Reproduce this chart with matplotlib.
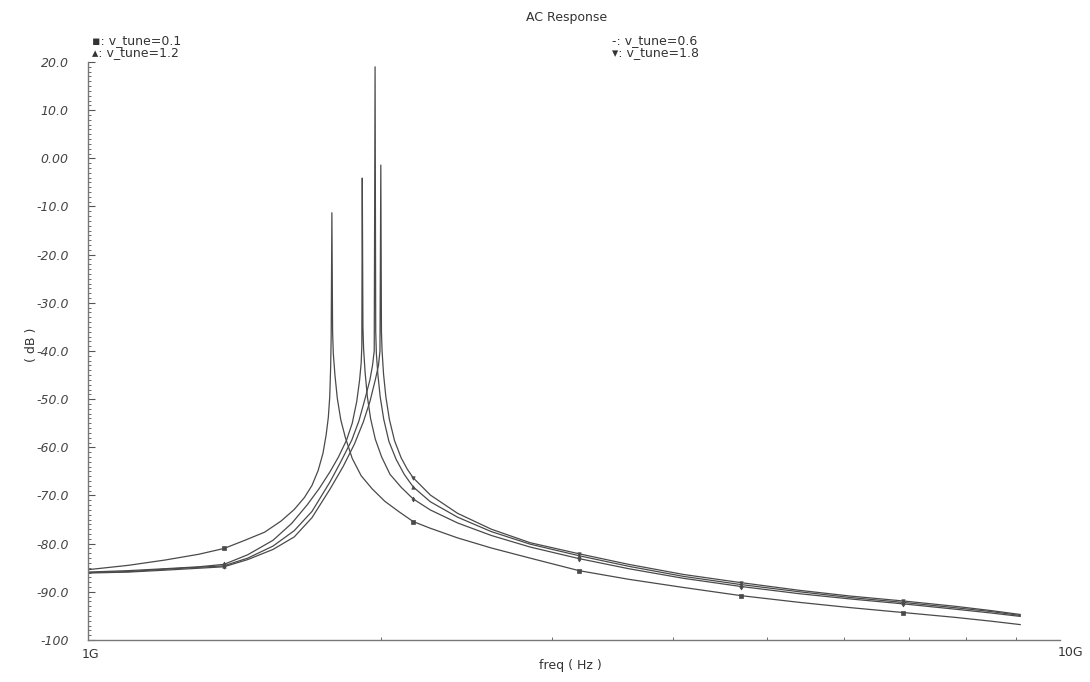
import numpy as np
import matplotlib.pyplot as plt
from matplotlib.ticker import FixedLocator, NullFormatter

# frequencies in GHz, magnitude in dB
f_01 = [1.00, 1.10, 1.20, 1.30, 1.38, 1.45, 1.52, 1.58, 1.63, 1.67, 1.70, 1.725, 1.745,
        1.758, 1.767, 1.773, 1.777, 1.779, 1.782, 1.785, 1.788, 1.795, 1.805, 1.82, 1.84,
        1.87, 1.91, 1.96, 2.02, 2.09, 2.16, 2.25, 2.40, 2.60, 2.85, 3.20, 3.60, 4.10,
        4.70, 5.40, 6.10, 6.90, 7.80, 8.50, 9.10]
db_01 = [-85.4, -84.5, -83.4, -82.2, -81.0, -79.3, -77.6, -75.3, -72.9, -70.4, -67.9, -64.8, -61.2,
         -57.4, -53.8, -49.5, -43.0, -37.0, -11.3, -36.0, -40.5, -45.0, -49.8, -54.3, -58.0,
         -62.3, -65.9, -68.6, -71.2, -73.4, -75.4, -76.8, -78.8, -80.9, -83.0, -85.6, -87.4, -89.1,
         -90.8, -92.2, -93.3, -94.3, -95.3, -96.1, -96.8]

f_06 = [1.00, 1.10, 1.20, 1.30, 1.38, 1.46, 1.55, 1.62, 1.68, 1.73, 1.775, 1.81, 1.845,
        1.87, 1.89, 1.903, 1.910, 1.913, 1.915, 1.918, 1.921, 1.928, 1.938, 1.953,
        1.975, 2.005, 2.045, 2.10, 2.16, 2.25, 2.40, 2.60, 2.85, 3.20, 3.60, 4.10, 4.70,
        5.40, 6.10, 6.90, 7.80, 8.50, 9.10]
db_06 = [-85.9, -85.6, -85.2, -84.8, -84.3, -82.3, -79.3, -75.8, -72.0, -68.5, -65.0, -62.0, -58.5,
         -55.0, -50.5, -46.0, -42.5, -39.0, -4.1, -35.0, -39.5, -44.5, -49.4, -54.0,
         -58.3, -62.0, -65.6, -68.3, -70.7, -73.0, -75.7, -78.3, -80.7, -83.1, -85.2, -87.2, -88.9,
         -90.4, -91.5, -92.5, -93.6, -94.4, -95.1]

f_12 = [1.00, 1.10, 1.20, 1.30, 1.38, 1.46, 1.55, 1.63, 1.70, 1.775, 1.82, 1.868, 1.90,
        1.93, 1.95, 1.962, 1.970, 1.974, 1.977, 1.980, 1.987, 1.998, 2.015,
        2.04, 2.075, 2.115, 2.16, 2.25, 2.40, 2.60, 2.85, 3.20, 3.60, 4.10, 4.70, 5.40,
        6.10, 6.90, 7.80, 8.50, 9.10]
db_12 = [-86.0, -85.8, -85.3, -84.9, -84.6, -83.0, -80.5, -77.3, -73.3, -67.1, -63.0, -58.5, -54.5,
         -49.5, -46.0, -43.0, -40.0, 19.0, -36.0, -40.5, -44.8, -49.5, -54.2,
         -58.8, -62.5, -65.6, -68.2, -71.3, -74.5, -77.5, -80.1, -82.5, -84.7, -86.8, -88.5, -90.0,
         -91.2, -92.2, -93.3, -94.1, -94.9]

f_18 = [1.00, 1.10, 1.20, 1.30, 1.38, 1.46, 1.55, 1.63, 1.70, 1.775, 1.83, 1.88, 1.92,
        1.95, 1.975, 1.99, 1.997, 2.001, 2.004, 2.007, 2.014, 2.025, 2.042,
        2.067, 2.10, 2.13, 2.16, 2.25, 2.40, 2.60, 2.85, 3.20, 3.60, 4.10, 4.70, 5.40,
        6.10, 6.90, 7.80, 8.50, 9.10]
db_18 = [-86.1, -85.9, -85.5, -85.1, -84.8, -83.3, -81.2, -78.6, -74.6, -68.6, -64.0, -59.3, -54.7,
         -50.5, -46.0, -43.0, -40.0, -1.4, -36.0, -40.0, -44.8, -49.5, -54.2,
         -58.6, -62.2, -64.5, -66.3, -69.9, -73.7, -77.0, -79.8, -82.1, -84.3, -86.4, -88.1, -89.7,
         -90.9, -91.9, -93.0, -93.9, -94.7]

marker_f = [1.38, 2.16, 3.20, 4.70, 6.90]

curves = [
    (f_01, db_01, 's'),
    (f_06, db_06, 'd'),
    (f_12, db_12, '^'),
    (f_18, db_18, 'v'),
]

yticks = list(range(20, -101, -10))
ylabels = ['20.0', '10.0', '0.00', '-10.0', '-20.0', '-30.0', '-40.0', '-50.0',
           '-60.0', '-70.0', '-80.0', '-90.0', '-100']

plt.rcParams['font.family'] = 'DejaVu Sans'
fig = plt.figure(figsize=(10.9, 6.82), dpi=100)
ax = fig.add_axes([88 / 1090, 42 / 682, 972 / 1090, 578 / 682])

for f, db, mk in curves:
    f = np.array(f)
    idx = list(np.where(np.isin(f, marker_f))[0])
    ax.plot(f * 1e9, db, color='#4a4a4a', lw=0.9, marker=mk, markevery=idx,
            markersize=2.5, markerfacecolor='#4a4a4a', markeredgewidth=0.5)

ax.set_xscale('log')
ax.set_xlim(1e9, 1e10)
ax.set_ylim(-100, 20)

ax.set_yticks(yticks)
ax.set_yticklabels(ylabels, fontsize=9, color='#444444', style='italic')
ax.yaxis.set_minor_locator(FixedLocator(np.arange(-100, 20.01, 1.0)))
ax.tick_params(axis='y', which='major', direction='in', length=5, pad=14, color='#555555')
ax.tick_params(axis='y', which='minor', direction='in', length=2.5, color='#555555')

ax.xaxis.set_major_locator(FixedLocator([]))
ax.xaxis.set_minor_locator(FixedLocator([k * 1e9 for k in range(2, 10)]))
ax.xaxis.set_minor_formatter(NullFormatter())
ax.tick_params(axis='x', which='minor', direction='in', length=2.5, color='#555555')

for s in ['top', 'right']:
    ax.spines[s].set_visible(False)
for s in ['left', 'bottom']:
    ax.spines[s].set_color('#777777')
    ax.spines[s].set_linewidth(1.0)

fig.text(90 / 1090, 1 - 655 / 682, '1G', fontsize=9, color='#333333', ha='center', va='center')
fig.text(1070 / 1090, 1 - 652 / 682, '10G', fontsize=9, color='#333333', ha='center', va='center')
fig.text(567 / 1090, 1 - 17 / 682, 'AC Response', fontsize=9, color='#333333', ha='center', va='center')
fig.text(570 / 1090, 1 - 666 / 682, 'freq ( Hz )', fontsize=9, color='#333333', ha='center', va='center')
fig.text(32 / 1090, 1 - 345 / 682, '( dB )', fontsize=9, color='#333333', ha='center', va='center',
         rotation=90)

fig.text(92 / 1090, 1 - 41 / 682, '▪: v_tune=0.1', fontsize=9, color='#333333', va='center')
fig.text(92 / 1090, 1 - 53 / 682, '▴: v_tune=1.2', fontsize=9, color='#333333', va='center')
fig.text(612 / 1090, 1 - 41 / 682, '-: v_tune=0.6', fontsize=9, color='#333333', va='center')
fig.text(612 / 1090, 1 - 53 / 682, '▾: v_tune=1.8', fontsize=9, color='#333333', va='center')

fig.savefig('out.png', dpi=100)
